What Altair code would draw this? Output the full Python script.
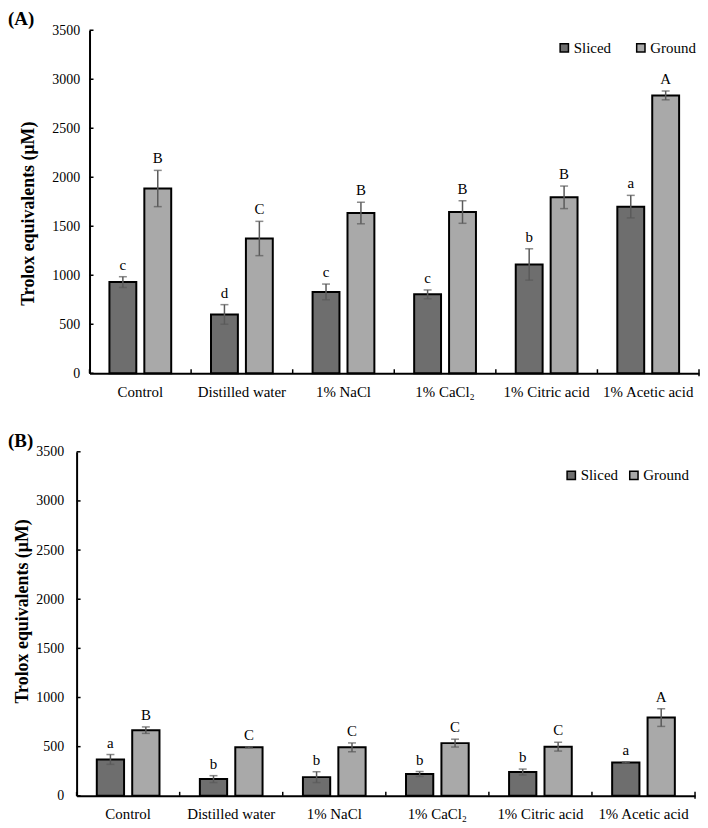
import altair as alt
import pandas as pd

categories = ["Control", "Distilled water", "1% NaCl", "1% CaCl\u2082", "1% Citric acid", "1% Acetic acid"]
series = ["Sliced", "Ground"]
y_ticks = [0, 500, 1000, 1500, 2000, 2500, 3000, 3500]

# Panel A
a_sliced = [930, 600, 830, 805, 1110, 1700]
a_sliced_err = [55, 100, 80, 45, 160, 115]
a_sliced_letters = ["c", "d", "c", "c", "b", "a"]
a_ground = [1885, 1375, 1635, 1645, 1795, 2835]
a_ground_err = [185, 175, 110, 115, 115, 45]
a_ground_letters = ["B", "C", "B", "B", "B", "A"]

# Panel B
b_sliced = [370, 170, 190, 222, 242, 340]
b_sliced_err = [50, 35, 55, 25, 30, 5]
b_sliced_letters = ["a", "b", "b", "b", "b", "a"]
b_ground = [668, 493, 493, 536, 500, 796]
b_ground_err = [33, 6, 45, 40, 45, 90]
b_ground_letters = ["B", "C", "C", "C", "C", "A"]

FONT = "Liberation Serif"
COLORS = ["#6e6e6e", "#a9a9a9"]
ERR = "#5a5a5a"


def panel(sl, sl_err, sl_let, gr, gr_err, gr_let, tag, width, x0, height,
          title_y, title_pad, label_pad, leg_x, leg_y, leg_col):
    rows = []
    for i, c in enumerate(categories):
        rows.append(dict(cat=c, series="Sliced", value=sl[i], err=sl_err[i], letter=sl_let[i]))
        rows.append(dict(cat=c, series="Ground", value=gr[i], err=gr_err[i], letter=gr_let[i]))
    df = pd.DataFrame(rows)
    df["lo"] = df["value"] - df["err"]
    df["hi"] = df["value"] + df["err"]

    xscale = alt.Scale(domain=categories, range=[x0, width], paddingInner=0, paddingOuter=0)
    xaxis = alt.Axis(title=None, labelAngle=0, tickSize=0, labelPadding=11,
                     labelFont=FONT, labelFontSize=15, labelColor="black",
                     domainColor="black", domainWidth=2, grid=False)
    x = alt.X("cat:N", sort=categories, scale=xscale, axis=xaxis)
    xo = alt.XOffset("series:N", sort=series,
                     scale=alt.Scale(domain=series, paddingInner=0.23, paddingOuter=0.57))
    yscale = alt.Scale(domain=[0, 3500], nice=False)
    yaxis_kw = dict(values=y_ticks, title="Trolox equivalents (\u03bcM)",
                    titleFont=FONT, titleFontSize=18, titleFontWeight="bold", titleColor="black",
                    titleY=title_y, titlePadding=title_pad,
                    labelFont=FONT, labelFontSize=14, labelColor="black", labelPadding=label_pad,
                    tickSize=0, domainColor="black", domainWidth=2, grid=False, format="d")
    if x0:
        yaxis_kw["offset"] = -x0
    yaxis = alt.Axis(**yaxis_kw)

    base = alt.Chart(df)
    bars = base.mark_bar(stroke="black", strokeWidth=2).encode(
        x=x, xOffset=xo,
        y=alt.Y("value:Q", scale=yscale, axis=yaxis),
        fill=alt.Fill("series:N", sort=series,
                      scale=alt.Scale(domain=series, range=COLORS),
                      legend=alt.Legend(title=None, orient="none", legendX=leg_x, legendY=leg_y,
                                        direction="horizontal", symbolType="square", symbolSize=70,
                                        symbolStrokeColor="black", symbolStrokeWidth=1.5,
                                        labelFont=FONT, labelFontSize=15, labelColor="black",
                                        columnPadding=leg_col, labelOffset=2, padding=0)),
    )
    err = base.mark_rule(color=ERR, strokeWidth=1.5).encode(
        x=x, xOffset=xo, y=alt.Y("lo:Q", scale=yscale), y2="hi:Q")
    cap_hi = base.mark_tick(color=ERR, thickness=1.5, size=8).encode(
        x=x, xOffset=xo, y=alt.Y("hi:Q", scale=yscale))
    cap_lo = base.mark_tick(color=ERR, thickness=1.5, size=8).encode(
        x=x, xOffset=xo, y=alt.Y("lo:Q", scale=yscale))
    letters = base.mark_text(baseline="bottom", dy=-4, font=FONT, fontSize=15, color="black").encode(
        x=x, xOffset=xo, y=alt.Y("hi:Q", scale=yscale), text="letter:N")

    xt = alt.Chart(pd.DataFrame({"cat": categories})).mark_rule(color="black", strokeWidth=1.5).encode(
        x=alt.X("cat:N", sort=categories, scale=xscale, axis=xaxis, bandPosition=0),
        y=alt.value(height), y2=alt.value(height - 4))
    xend = alt.Chart(pd.DataFrame({"cat": [categories[-1]]})).mark_rule(color="black", strokeWidth=1.5).encode(
        x=alt.value(width), y=alt.value(height - 4), y2=alt.value(height + 3))
    yt = alt.Chart(pd.DataFrame({"value": y_ticks})).mark_rule(color="black", strokeWidth=1.5).encode(
        y=alt.Y("value:Q", scale=yscale, axis=yaxis),
        x=alt.value(x0), x2=alt.value(x0 + 4))
    tag_c = alt.Chart(pd.DataFrame({"t": [tag]})).mark_text(
        align="left", baseline="top", font=FONT, fontSize=19, fontWeight="bold", color="black").encode(
        text="t:N", x=alt.value(-69), y=alt.value(-20))

    return alt.layer(bars, err, cap_hi, cap_lo, letters, xt, xend, yt, tag_c).properties(
        width=width, height=height)


pa = panel(a_sliced, a_sliced_err, a_sliced_letters, a_ground, a_ground_err, a_ground_letters,
           "(A)", 626, 13, 345, 184, 14, 10, 483, 10, 22)
pb = panel(b_sliced, b_sliced_err, b_sliced_letters, b_ground, b_ground_err, b_ground_letters,
           "(B)", 622, 0, 346, 160, 4, 13, 490, 16, 8)

chart = alt.vconcat(pa, pb, spacing=33).resolve_scale(
    fill="independent", x="independent", y="independent", xOffset="independent"
).resolve_legend(fill="independent").properties(padding=0).configure_view(stroke=None)

chart.save("out.html", embed_options={"renderer": "svg", "actions": False})
